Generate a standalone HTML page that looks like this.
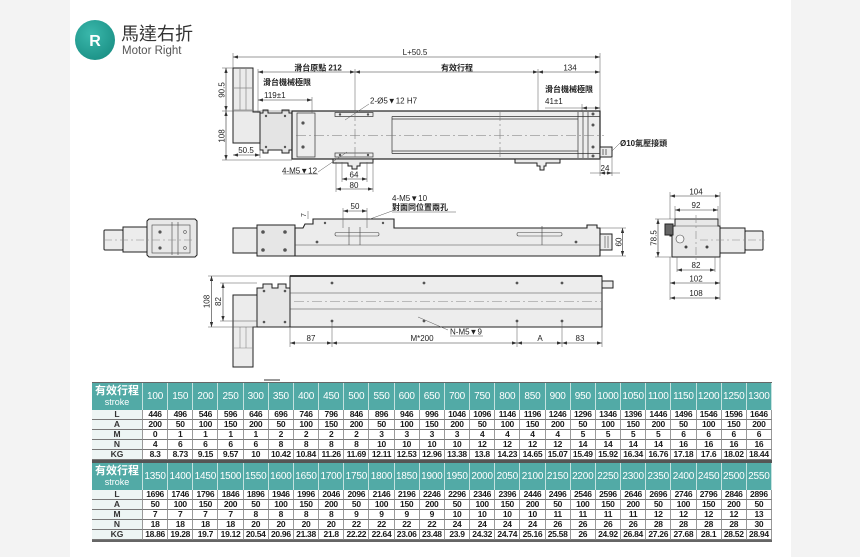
<!DOCTYPE html>
<html><head><meta charset="utf-8">
<style>
html,body{margin:0;padding:0;}
body{width:860px;height:557px;background:#f3f3f3;position:relative;overflow:hidden;font-family:"Liberation Sans","Noto Sans CJK TC",sans-serif;}
.panel{position:absolute;left:70px;top:0;width:721px;height:557px;background:#fff;}
svg{position:absolute;left:0;top:0;}
.t{font-family:"Liberation Sans",sans-serif;font-size:8px;fill:#222;}
.c{font-family:"Liberation Sans","Noto Sans CJK TC",sans-serif;font-size:8px;font-weight:bold;fill:#222;}
.d{marker-start:url(#a);marker-end:url(#a);stroke:#333;stroke-width:0.6;fill:none;}
.e{stroke:#555;stroke-width:0.5;fill:none;}
.tb{position:absolute;left:92px;width:680px;display:grid;grid-template-columns:51px repeat(25,1fr);grid-template-rows:27px repeat(5,10px);}
.tb span{display:block;box-sizing:border-box;text-align:center;white-space:nowrap;overflow:hidden;font-size:8.5px;font-weight:bold;line-height:9px;border-right:1px solid #999;border-bottom:1px solid #777;color:#1a1a1a;letter-spacing:-0.3px;background:#fff;}
.tb span:nth-child(26n+1){background:#edf5f4;color:#333;letter-spacing:0;}
.tb span:nth-child(-n+26){background:#52aaa6;color:#fff;font-weight:normal;font-size:10px;line-height:27px;border-bottom:none;border-right:1px solid #c4e2df;letter-spacing:-0.2px;}
.tb span:nth-child(1){line-height:11px;padding-top:3px;font-size:11px;font-weight:bold;letter-spacing:0;}
.tb span small{font-size:9px;font-weight:normal;}
#t1{top:382px;border-top:1px solid #666;border-bottom:3px solid #555;}
#t2{top:463px;border-bottom:2px solid #666;}
</style></head><body>
<div class="panel"></div>
<svg width="860" height="557" viewBox="0 0 860 557">
<defs>
<marker id="a" viewBox="0 0 6 4" refX="6" refY="2" markerWidth="5" markerHeight="3.4" orient="auto-start-reverse" markerUnits="userSpaceOnUse"><path d="M0,0L6,2L0,4z" fill="#333"/></marker>
<radialGradient id="lg" cx="40%" cy="35%" r="70%"><stop offset="0" stop-color="#3bb8ac"/><stop offset="1" stop-color="#1b9186"/></radialGradient>
</defs>

<!-- logo -->
<circle cx="95" cy="40" r="20" fill="url(#lg)"/>
<text x="95" y="46" text-anchor="middle" font-family="Liberation Sans, sans-serif" font-weight="bold" font-size="16" fill="#fff">R</text>
<text x="121" y="40" class="c" style="font-size:18px;font-weight:normal;fill:#333">馬達右折</text>
<text x="122" y="54" class="t" style="font-size:11.5px;fill:#555">Motor Right</text>

<!-- ===== TOP VIEW ===== -->
<g stroke="#222" stroke-width="1" fill="#ebebeb">
<path d="M233,68H253V112H260V143H233Z"/>
<path d="M260,113H263V110H268V113H282V110H289V113H292V150H289V153H282V150H268V153H263V150H260Z" fill="#e4e4e4"/>
<rect x="292" y="111" width="308" height="48" fill="#ededed" stroke-width="1.2"/>
<path d="M333,159H373V163H360V166H357V169H352V166H348V163H333Z"/>
<path d="M515,159H560V163H546V166H544V170H540V166H537V163H515Z"/>
<rect x="600" y="147" width="12" height="10"/>
</g>
<g stroke="#333" stroke-width="0.7" fill="none">
<path d="M392,116.5H600M392,119H578M392,151H578M392,153.5H600M392,116.5V153.5"/>
<path d="M578,112V158M583,112V158M588,112V158"/>
<rect x="297" y="113" width="18" height="44"/>
<rect x="335" y="112.5" width="38" height="4"/>
<rect x="335" y="153" width="38" height="4"/>
<path d="M240,68V110M246,68V110M233,88H253M233,110H253" stroke="#888"/>
<path d="M603,149V155M606,149V155"/>
</g>
<g stroke="#777" stroke-width="0.6" fill="none" stroke-dasharray="10,3,2,3">
<path d="M296,135.5H604"/>
<path d="M355,111V158M500,111V158"/>
</g>
<g fill="#555">
<circle cx="303" cy="123" r="1.6"/><circle cx="303" cy="147" r="1.6"/>
<circle cx="340" cy="114.5" r="1.2"/><circle cx="368" cy="114.5" r="1.2"/>
<circle cx="340" cy="155" r="1.2"/><circle cx="368" cy="155" r="1.2"/>
<circle cx="593" cy="114" r="1.5"/><circle cx="593" cy="125" r="1.5"/>
<circle cx="593" cy="147" r="1.5"/><circle cx="593" cy="156" r="1.5"/>
<circle cx="266" cy="116" r="1.2"/><circle cx="285" cy="116" r="1.2"/>
<circle cx="266" cy="147" r="1.2"/><circle cx="285" cy="147" r="1.2"/>
</g>
<!-- top dims -->
<path class="e" d="M233,53V68M600,53V111M258,69V113M538,69V111M355,69V111M312,97V113M222,68H233M222,111H292M222,160H292M260,144V158M342,162V182M367,162V182M336,162V192M373,162V192M600,158V176M612,158V176M582,104V112M590,173H600M612,173H620M545,108H582M369,104L345,120M318,172L347,152M283,174H318M612,151L620,143"/>
<line class="d" x1="233" y1="57" x2="600" y2="57"/>
<line class="d" x1="258" y1="72" x2="355" y2="72"/>
<line class="d" x1="355" y1="72" x2="538" y2="72"/>
<line class="d" x1="538" y1="72" x2="600" y2="72"/>
<line class="d" x1="258" y1="100" x2="312" y2="100"/>
<line class="d" x1="582" y1="108" x2="600" y2="108"/>
<line class="d" x1="226" y1="68" x2="226" y2="111"/>
<line class="d" x1="226" y1="111" x2="226" y2="160"/>
<line class="d" x1="233" y1="155" x2="260" y2="155"/>
<line class="d" x1="342" y1="179" x2="367" y2="179"/>
<line class="d" x1="336" y1="189" x2="373" y2="189"/>
<line class="d" x1="600" y1="173" x2="612" y2="173"/>
<text x="415" y="55" class="t" text-anchor="middle">L+50.5</text>
<text x="318" y="70.5" class="c" text-anchor="middle">滑台原點 212</text>
<text x="457" y="70.5" class="c" text-anchor="middle">有效行程</text>
<text x="570" y="70.5" class="t" text-anchor="middle">134</text>
<text x="263" y="85" class="c">滑台機械極限</text>
<text x="264" y="98" class="t">119±1</text>
<text x="545" y="92" class="c">滑台機械極限</text>
<text x="545" y="104" class="t">41±1</text>
<text x="370" y="103.5" class="t">2-Ø5▼12 H7</text>
<text x="282" y="173.5" class="t">4-M5▼12</text>
<text x="354" y="177.5" class="t" text-anchor="middle">64</text>
<text x="354" y="188" class="t" text-anchor="middle">80</text>
<text x="246" y="153" class="t" text-anchor="middle">50.5</text>
<text transform="translate(224.5,90) rotate(-90)" class="t" text-anchor="middle">90.5</text>
<text transform="translate(224.5,136) rotate(-90)" class="t" text-anchor="middle">108</text>
<text x="620" y="146" class="c">Ø10氣壓接頭</text>
<text x="605" y="171" class="t" text-anchor="middle">24</text>

<!-- ===== MIDDLE LEFT END VIEW ===== -->
<g stroke="#222" stroke-width="1" fill="#ececec">
<rect x="104" y="230" width="19" height="20" rx="1"/>
<rect x="123" y="227" width="24" height="25"/>
<path d="M149,219H195L197,221V255L195,257H149L147,255V221Z" fill="#e8e8e8"/>
</g>
<g stroke="#444" stroke-width="0.6" fill="none">
<rect x="152" y="225" width="38" height="28"/>
<path d="M172,222V255M178,222V255"/>
<path d="M104,240H195" stroke="#888" stroke-dasharray="8,3,2,3"/>
</g>
<g fill="#555"><circle cx="160" cy="232" r="1.6"/><circle cx="160" cy="248" r="1.6"/><circle cx="185" cy="232" r="1.4" fill="none" stroke="#555" stroke-width="0.6"/><circle cx="185" cy="248" r="1.4" fill="none" stroke="#555" stroke-width="0.6"/></g>

<!-- ===== MIDDLE FRONT VIEW ===== -->
<g stroke="#222" stroke-width="1" fill="#ececec">
<rect x="233" y="228" width="24" height="25"/>
<rect x="257" y="225" width="38" height="31" fill="#e6e6e6"/>
<path d="M295,228H303L305,224H313V219H394V228H587V225H597V228H600V256H295Z" stroke-width="1.1"/>
<rect x="600" y="234" width="12" height="16"/>
</g>
<g stroke="#444" stroke-width="0.6" fill="none">
<path d="M295,245H600"/>
<rect x="335" y="232.5" width="44" height="3.5" rx="1.5"/>
<rect x="517" y="232.5" width="45" height="3.5" rx="1.5"/>
<path d="M349,227V245M360,227V245M542,226V245"/>
<path d="M605,236V248M608,236V248"/>
</g>
<g fill="#555">
<circle cx="263" cy="232" r="1.8"/><circle cx="285" cy="232" r="1.8"/><circle cx="263" cy="250" r="1.8"/><circle cx="285" cy="250" r="1.8"/>
<circle cx="317" cy="242" r="1.4"/><circle cx="576" cy="242" r="1.4"/>
<circle cx="325" cy="223" r="1.2"/><circle cx="383" cy="223" r="1.2"/>
</g>
<path class="e" d="M343,208V228M367,208V228M600,228H626M600,256H626M308,211V219M392,212H456M392,211L370,219"/>
<line class="d" x1="343" y1="211" x2="367" y2="211"/>
<line class="d" x1="622.5" y1="228" x2="622.5" y2="256"/>
<text x="355" y="209" class="t" text-anchor="middle">50</text>
<text transform="translate(306,215) rotate(-90)" class="t" text-anchor="middle" style="font-size:7px">7</text>
<text x="392" y="201" class="t">4-M5▼10</text>
<text x="392" y="210" class="c">對面同位置兩孔</text>
<text transform="translate(621.5,242) rotate(-90)" class="t" text-anchor="middle">60</text>

<!-- ===== BOTTOM VIEW ===== -->
<g stroke="#222" stroke-width="1" fill="#ececec">
<path d="M233,295H257V327H253V367H233Z"/>
<path d="M257,288H263V284H272V288H278V284H286V288H290V327H257Z" fill="#e6e6e6"/>
<rect x="290" y="276" width="312" height="51" fill="#ededed"/>
<rect x="602" y="281" width="11" height="7"/>
</g>
<path d="M290,276H602" stroke="#222" stroke-width="1.8"/>
<g stroke="#444" stroke-width="0.6" fill="none">
<path d="M290,293H602M290,309H602"/>
<path d="M233,348H253M240,327V348M246,327V348" stroke="#888"/>
<path d="M294,301.5H602" stroke="#888" stroke-dasharray="10,3,2,3"/>
</g>
<g fill="#555">
<circle cx="332" cy="283" r="1.4"/><circle cx="424" cy="283" r="1.4"/><circle cx="517" cy="283" r="1.4"/><circle cx="562" cy="283" r="1.4"/>
<circle cx="332" cy="321" r="1.4"/><circle cx="424" cy="321" r="1.4"/><circle cx="517" cy="321" r="1.4"/><circle cx="562" cy="321" r="1.4"/>
<circle cx="264" cy="291" r="1.3"/><circle cx="285" cy="291" r="1.3"/><circle cx="264" cy="322" r="1.3"/><circle cx="285" cy="322" r="1.3"/>
</g>
<path class="e" d="M208,276H290M208,327H257M220,283H257M220,321H257M290,327V347M332,321V347M517,321V347M562,321V347M602,327V347M448,330L418,317M450,336H483"/>
<line class="d" x1="211.5" y1="276" x2="211.5" y2="327"/>
<line class="d" x1="223" y1="283" x2="223" y2="321"/>
<line class="d" x1="290" y1="343" x2="332" y2="343"/>
<line class="d" x1="332" y1="343" x2="517" y2="343"/>
<line class="d" x1="517" y1="343" x2="562" y2="343"/>
<line class="d" x1="562" y1="343" x2="602" y2="343"/>
<text transform="translate(209.5,301.5) rotate(-90)" class="t" text-anchor="middle">108</text>
<text transform="translate(221,301.5) rotate(-90)" class="t" text-anchor="middle">82</text>
<text x="311" y="341" class="t" text-anchor="middle">87</text>
<text x="422" y="341" class="t" text-anchor="middle">M*200</text>
<text x="540" y="341" class="t" text-anchor="middle">A</text>
<text x="580" y="341" class="t" text-anchor="middle">83</text>
<text x="450" y="334.5" class="t">N-M5▼9</text>

<!-- ===== RIGHT END VIEW ===== -->
<g stroke="#222" stroke-width="1" fill="#e8e8e8">
<path d="M675,219H718V226H720V257H672V236H670V226H675Z"/>
<rect x="665" y="224" width="8" height="11" fill="#666"/>
<rect x="720" y="228" width="25" height="25" fill="#ececec"/>
<rect x="745" y="231" width="18" height="19" rx="1" fill="#ececec"/>
</g>
<g stroke="#444" stroke-width="0.6" fill="none">
<path d="M675,226H718"/>
<circle cx="680" cy="239" r="4" fill="#f6f6f6"/>
<path d="M696,215V260M700,240H765" stroke="#888" stroke-dasharray="8,3,2,3"/>
</g>
<circle cx="686" cy="247" r="1.5" fill="#444"/><circle cx="707" cy="247" r="1.5" fill="#444"/>
<path class="e" d="M670,192V219M720,192V226M675,206V219M718,206V219M655,219H675M655,257H672M670,257V300M720,257V300M677,257V272M715,257V272"/>
<line class="d" x1="670" y1="196" x2="720" y2="196"/>
<line class="d" x1="675" y1="210" x2="718" y2="210"/>
<line class="d" x1="658" y1="219" x2="658" y2="257"/>
<line class="d" x1="677" y1="270" x2="715" y2="270"/>
<line class="d" x1="670" y1="283" x2="720" y2="283"/>
<line class="d" x1="670" y1="298" x2="720" y2="298"/>
<text x="696" y="194.5" class="t" text-anchor="middle">104</text>
<text x="696" y="208" class="t" text-anchor="middle">92</text>
<text transform="translate(656.5,238) rotate(-90)" class="t" text-anchor="middle">78.5</text>
<text x="696" y="268" class="t" text-anchor="middle">82</text>
<text x="696" y="281.5" class="t" text-anchor="middle">102</text>
<text x="696" y="296" class="t" text-anchor="middle">108</text>

<rect x="264" y="379" width="16" height="2" fill="#999"/>
</svg>

<div class="tb" id="t1">
<span>有效行程<br><small>stroke</small></span><span>100</span><span>150</span><span>200</span><span>250</span><span>300</span><span>350</span><span>400</span><span>450</span><span>500</span><span>550</span><span>600</span><span>650</span><span>700</span><span>750</span><span>800</span><span>850</span><span>900</span><span>950</span><span>1000</span><span>1050</span><span>1100</span><span>1150</span><span>1200</span><span>1250</span><span>1300</span>
<span>L</span><span>446</span><span>496</span><span>546</span><span>596</span><span>646</span><span>696</span><span>746</span><span>796</span><span>846</span><span>896</span><span>946</span><span>996</span><span>1046</span><span>1096</span><span>1146</span><span>1196</span><span>1246</span><span>1296</span><span>1346</span><span>1396</span><span>1446</span><span>1496</span><span>1546</span><span>1596</span><span>1646</span>
<span>A</span><span>200</span><span>50</span><span>100</span><span>150</span><span>200</span><span>50</span><span>100</span><span>150</span><span>200</span><span>50</span><span>100</span><span>150</span><span>200</span><span>50</span><span>100</span><span>150</span><span>200</span><span>50</span><span>100</span><span>150</span><span>200</span><span>50</span><span>100</span><span>150</span><span>200</span>
<span>M</span><span>0</span><span>1</span><span>1</span><span>1</span><span>1</span><span>2</span><span>2</span><span>2</span><span>2</span><span>3</span><span>3</span><span>3</span><span>3</span><span>4</span><span>4</span><span>4</span><span>4</span><span>5</span><span>5</span><span>5</span><span>5</span><span>6</span><span>6</span><span>6</span><span>6</span>
<span>N</span><span>4</span><span>6</span><span>6</span><span>6</span><span>6</span><span>8</span><span>8</span><span>8</span><span>8</span><span>10</span><span>10</span><span>10</span><span>10</span><span>12</span><span>12</span><span>12</span><span>12</span><span>14</span><span>14</span><span>14</span><span>14</span><span>16</span><span>16</span><span>16</span><span>16</span>
<span>KG</span><span>8.3</span><span>8.73</span><span>9.15</span><span>9.57</span><span>10</span><span>10.42</span><span>10.84</span><span>11.26</span><span>11.69</span><span>12.11</span><span>12.53</span><span>12.96</span><span>13.38</span><span>13.8</span><span>14.23</span><span>14.65</span><span>15.07</span><span>15.49</span><span>15.92</span><span>16.34</span><span>16.76</span><span>17.18</span><span>17.6</span><span>18.02</span><span>18.44</span>
</div>

<div class="tb" id="t2">
<span>有效行程<br><small>stroke</small></span><span>1350</span><span>1400</span><span>1450</span><span>1500</span><span>1550</span><span>1600</span><span>1650</span><span>1700</span><span>1750</span><span>1800</span><span>1850</span><span>1900</span><span>1950</span><span>2000</span><span>2050</span><span>2100</span><span>2150</span><span>2200</span><span>2250</span><span>2300</span><span>2350</span><span>2400</span><span>2450</span><span>2500</span><span>2550</span>
<span>L</span><span>1696</span><span>1746</span><span>1796</span><span>1846</span><span>1896</span><span>1946</span><span>1996</span><span>2046</span><span>2096</span><span>2146</span><span>2196</span><span>2246</span><span>2296</span><span>2346</span><span>2396</span><span>2446</span><span>2496</span><span>2546</span><span>2596</span><span>2646</span><span>2696</span><span>2746</span><span>2796</span><span>2846</span><span>2896</span>
<span>A</span><span>50</span><span>100</span><span>150</span><span>200</span><span>50</span><span>100</span><span>150</span><span>200</span><span>50</span><span>100</span><span>150</span><span>200</span><span>50</span><span>100</span><span>150</span><span>200</span><span>50</span><span>100</span><span>150</span><span>200</span><span>50</span><span>100</span><span>150</span><span>200</span><span>50</span>
<span>M</span><span>7</span><span>7</span><span>7</span><span>7</span><span>8</span><span>8</span><span>8</span><span>8</span><span>9</span><span>9</span><span>9</span><span>9</span><span>10</span><span>10</span><span>10</span><span>10</span><span>11</span><span>11</span><span>11</span><span>11</span><span>12</span><span>12</span><span>12</span><span>12</span><span>13</span>
<span>N</span><span>18</span><span>18</span><span>18</span><span>18</span><span>20</span><span>20</span><span>20</span><span>20</span><span>22</span><span>22</span><span>22</span><span>22</span><span>24</span><span>24</span><span>24</span><span>24</span><span>26</span><span>26</span><span>26</span><span>26</span><span>28</span><span>28</span><span>28</span><span>28</span><span>30</span>
<span>KG</span><span>18.86</span><span>19.28</span><span>19.7</span><span>19.12</span><span>20.54</span><span>20.96</span><span>21.38</span><span>21.8</span><span>22.22</span><span>22.64</span><span>23.06</span><span>23.48</span><span>23.9</span><span>24.32</span><span>24.74</span><span>25.16</span><span>25.58</span><span>26</span><span>24.92</span><span>26.84</span><span>27.26</span><span>27.68</span><span>28.1</span><span>28.52</span><span>28.94</span>
</div>
</body></html>
